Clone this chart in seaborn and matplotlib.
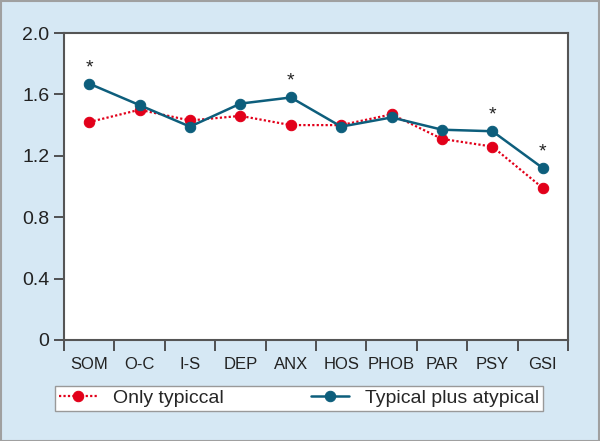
import numpy as np
import pandas as pd
import matplotlib
matplotlib.use("Agg")
import matplotlib.pyplot as plt
import seaborn as sns
from matplotlib.patches import Rectangle
from matplotlib.ticker import FixedLocator, FuncFormatter

# Datos
categories = ['SOM', 'O-C', 'I-S', 'DEP', 'ANX', 'HOS', 'PHOB', 'PAR', 'PSY', 'GSI']
only_typical = [1.42, 1.50, 1.43, 1.46, 1.40, 1.40, 1.47, 1.31, 1.26, 0.99]
typical_plus_atypical = [1.67, 1.53, 1.39, 1.54, 1.58, 1.39, 1.45, 1.37, 1.36, 1.12]
significant = ['SOM', 'ANX', 'PSY', 'GSI']

red = '#e2001a'
blue = '#0d5e7c'
bg = '#d6e8f4'

sns.set_style("ticks")
plt.rcParams['font.family'] = ['Liberation Sans', 'DejaVu Sans']

df_a = pd.DataFrame({'Scale': categories, 'Mean': only_typical})
df_b = pd.DataFrame({'Scale': categories, 'Mean': typical_plus_atypical})

fig = plt.figure(figsize=(6, 4.41), dpi=100, facecolor=bg)
ax = fig.add_axes([64 / 600, 1 - 340 / 441, 504 / 600, 307 / 441])
ax.set_facecolor('white')

sns.lineplot(data=df_a, x='Scale', y='Mean', ax=ax, color=red, linestyle=(0, (1, 1)),
             linewidth=1.6, marker='o', markersize=7.5, markeredgecolor=red,
             label='Only typiccal', sort=False)
sns.lineplot(data=df_b, x='Scale', y='Mean', ax=ax, color=blue, linestyle='-',
             linewidth=1.8, marker='o', markersize=7.5, markeredgecolor=blue,
             label='Typical plus atypical', sort=False)

# Asteriscos de significancia
for cat in significant:
    i = categories.index(cat)
    top = max(only_typical[i], typical_plus_atypical[i])
    ax.text(i, top + 0.105, '*', ha='center', va='center', fontsize=14, color='#222222')

ax.set_xlim(-0.5, len(categories) - 0.5)
ax.set_ylim(0, 2.0)
ax.set_yticks([0, 0.4, 0.8, 1.2, 1.6, 2.0])
ax.yaxis.set_major_formatter(FuncFormatter(lambda v, p: '0' if v == 0 else f'{v:.1f}'))

# Marcas entre categorias, etiquetas centradas
ax.xaxis.set_major_locator(FixedLocator(np.arange(-0.5, len(categories))))
ax.xaxis.set_major_formatter(FuncFormatter(lambda v, p: ''))
ax.xaxis.set_minor_locator(FixedLocator(np.arange(len(categories))))
ax.set_xticklabels(categories, minor=True)
ax.tick_params(axis='x', which='major', length=8, width=1.3, color='#444444')
ax.tick_params(axis='x', which='minor', length=0, labelsize=12, pad=12, labelcolor='#222222')
ax.tick_params(axis='y', length=7, width=1.3, color='#444444', labelsize=14, labelcolor='#222222')

for s in ax.spines.values():
    s.set_visible(True)
    s.set_color('#555555')
    s.set_linewidth(1.5)

ax.set_xlabel('')
ax.set_ylabel('')

ax.legend(loc='lower left', bbox_to_anchor=(55 / 600, 30 / 441, 488 / 600, 30 / 441),
          bbox_transform=fig.transFigure, mode='expand', ncol=2, fontsize=14,
          frameon=True, fancybox=False, edgecolor='#999999', framealpha=1,
          borderaxespad=0, borderpad=0.2, handlelength=2.0)

fig.patches.append(Rectangle((0.001, 0.001), 0.997, 0.997, transform=fig.transFigure,
                             fill=False, edgecolor='#a0a0a0', linewidth=1.5))

fig.savefig('out.png', dpi=100, facecolor=bg)
